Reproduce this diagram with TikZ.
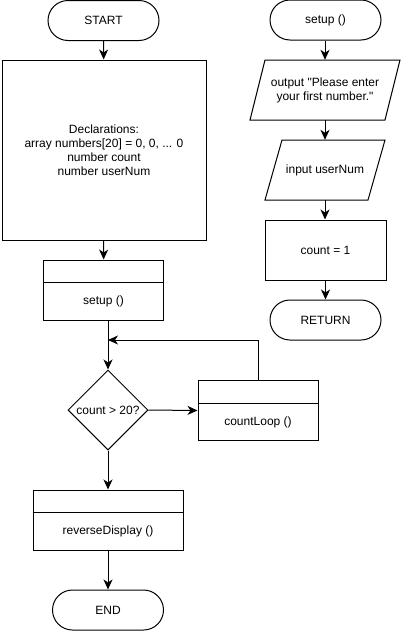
\documentclass[tikz,border=0pt]{standalone}
\usepackage{fontspec}
\setmainfont{Liberation Sans}[Ligatures=TeXOff]
\usetikzlibrary{arrows.meta,shapes.geometric,calc}
\begin{document}
\begin{tikzpicture}[x=1pt,y=-1pt,
  every node/.style={font=\fontsize{12}{14}\selectfont},
  line/.style={draw=black,line width=1pt},
  arrow/.style={line,-{Stealth[length=10pt,width=9pt,inset=3pt]}},
  term/.style={line,rectangle,rounded corners=20pt,minimum width=111pt,minimum height=40pt,inner sep=0pt},
  proc/.style={line,rectangle,inner sep=0pt,align=center},
  subbox/.style={line,rectangle,minimum width=120pt,minimum height=60pt,inner sep=0pt},
  ghost/.style={rectangle,inner sep=0pt,align=center},
  dec/.style={line,diamond,minimum width=80pt,minimum height=80pt,inner sep=0pt,aspect=1}
]
\useasboundingbox (0,0) rectangle (401,632);

% left column
\node[term] (start) at (103.5,20.5) {START};
\node[proc,minimum width=204pt,minimum height=180pt] (decl) at (104,150)
  {Declarations:\\array numbers[20] = 0, 0, ... 0\\number count\\number userNum};
\node[subbox] (setup) at (103.5,290) {};
\draw[line] ($(setup.north west)+(0,23)$) -- ($(setup.north east)+(0,23)$);
\node[ghost] (setupt) at (103.5,301.5) {setup ()};

\node[dec] (d) at (108,410) {count > 20?};
\node[subbox] (cl) at (258,410.5) {};
\draw[line] ($(cl.north west)+(0,23)$) -- ($(cl.north east)+(0,23)$);
\node[ghost] (clt) at (258,422) {countLoop ()};
\coordinate (join) at (108,340);

\node[subbox,minimum width=150pt] (rev) at (108,520) {};
\draw[line] ($(rev.north west)+(0,23)$) -- ($(rev.north east)+(0,23)$);
\node[ghost] (revt) at (108,531.5) {reverseDisplay ()};

\node[term] (end) at (108,610) {END};

% right column
\node[term] (sub) at (325.5,20) {setup ()};
\node[ghost,minimum width=120pt,minimum height=60pt] (out) at (325,90)
  {output "Please enter\\your first number."};
\draw[line] (265,60) -- (400,60) -- (385,120) -- (250,120) -- cycle;
\node[ghost,minimum width=86pt,minimum height=60pt] (in) at (325,170) {input userNum};
\draw[line] (282,140) -- (385,140) -- (368,200) -- (265,200) -- cycle;
\node[proc,minimum width=121pt,minimum height=60pt] (cnt) at (325.5,250) {count = 1};
\node[term] (ret) at (325.5,320) {RETURN};

% connectors
\draw[arrow] (start) -- (decl);
\draw[arrow] (decl) -- (setup);
\draw[arrow] (setup.south -| d.north) -- (d.north);
\draw[arrow] (cl.north) |- (join);
\draw[arrow] (d.east) -- (cl.west);
\draw[arrow] (d.south) -- (rev.north);
\draw[arrow] (rev.south) -- (end.north);

\draw[arrow] (sub.south -| out.north) -- (out.north);
\draw[arrow] (out.south) -- (in.north);
\draw[arrow] (in.south) -- (in.south |- cnt.north);
\draw[arrow] (cnt.south) -- (cnt.south |- ret.north);
\end{tikzpicture}
\end{document}
